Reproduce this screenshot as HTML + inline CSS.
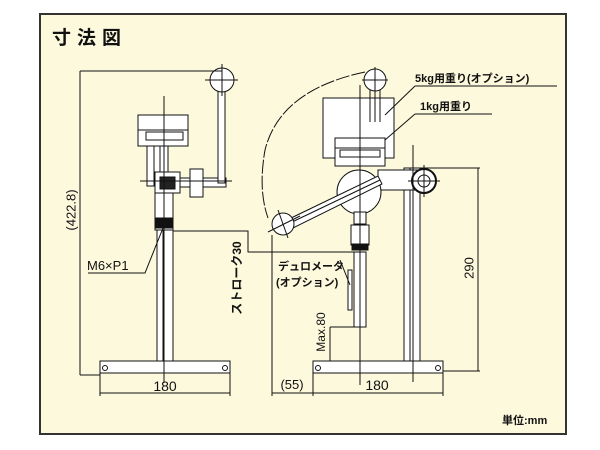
<!DOCTYPE html>
<html><head><meta charset="utf-8"><style>
html,body{margin:0;padding:0;background:#fff;}
svg{display:block;}
text{font-family:"Liberation Sans","Noto Sans CJK JP",sans-serif;fill:#111;}
</style></head><body>
<svg width="600" height="450" viewBox="0 0 600 450" xmlns="http://www.w3.org/2000/svg">
<rect x="0" y="0" width="600" height="450" fill="#fff"/>
<rect x="40" y="14" width="526" height="420" fill="#fdf9dd" stroke="#333" stroke-width="2"/>
<text x="52" y="44" font-size="19" font-weight="bold" letter-spacing="6">寸法図</text>

<g stroke="#111" fill="#fff" stroke-width="1">
<!-- LEFT STAND -->
<rect x="100" y="361" width="130" height="12"/>
<rect x="157" y="230" width="16" height="131"/>
<line x1="163" y1="230" x2="163" y2="361"/>
<rect x="155" y="193" width="18" height="37"/>
<rect x="155" y="218" width="18" height="10" fill="#111"/>
<rect x="147" y="146" width="21" height="40"/>
<line x1="154" y1="146" x2="154" y2="186"/><line x1="160" y1="146" x2="160" y2="186"/>
<rect x="138" y="115" width="50" height="31"/>
<line x1="138" y1="130" x2="188" y2="130"/>
<rect x="146" y="132" width="37" height="8"/>
<rect x="180" y="178" width="46" height="9"/>
<rect x="190" y="169" width="13" height="28"/>
<rect x="155" y="172" width="25" height="21"/>
<rect x="160" y="177" width="15" height="12" fill="#222"/>
<rect x="218" y="90" width="7" height="93"/>
<circle cx="222" cy="80" r="12"/>
<line x1="205" y1="80" x2="238" y2="80"/><line x1="222" y1="64" x2="222" y2="96"/>
<line x1="140" y1="181" x2="232" y2="181"/>
<line x1="164" y1="96" x2="164" y2="383"/>
<circle cx="105" cy="368" r="2.5"/><circle cx="225" cy="368" r="2.5"/>
<line x1="80" y1="71" x2="222" y2="71"/>
<line x1="80" y1="71" x2="80" y2="375"/>
<line x1="80" y1="375" x2="100" y2="375"/>
<line x1="100" y1="373" x2="100" y2="396"/><line x1="230" y1="373" x2="230" y2="396"/>
<line x1="100" y1="393" x2="230" y2="393"/>
<polyline points="88,273 145,273 163,228" fill="none"/>
<polyline points="173,231 248,231 248,252 356,252" fill="none"/>

<!-- RIGHT STAND -->
<rect x="313" y="361" width="130" height="12"/>
<rect x="404" y="168" width="16" height="193"/>
<line x1="410" y1="168" x2="410" y2="361"/>
<path d="M365 72 Q280 90 265 150 Q258 190 268 218" fill="none" stroke-dasharray="14,2"/>
<rect x="323" y="98" width="71" height="60"/>
<line x1="370" y1="90" x2="370" y2="122"/><line x1="375" y1="90" x2="375" y2="122"/><line x1="380" y1="90" x2="380" y2="122"/>
<circle cx="375" cy="80" r="11"/>
<line x1="375" y1="67" x2="375" y2="94"/><line x1="362" y1="80" x2="388" y2="80"/>
<rect x="335" y="138" width="50" height="28"/>
<line x1="335" y1="148" x2="385" y2="148"/>
<rect x="340" y="150" width="40" height="7"/>
<rect x="378" y="170" width="42" height="20"/>
<circle cx="359" cy="192" r="22"/>
<circle cx="424" cy="181" r="12" stroke-width="2"/>
<circle cx="424" cy="181" r="6"/>
<line x1="408" y1="181" x2="440" y2="181"/><line x1="424" y1="165" x2="424" y2="197"/>
<path d="M289 219 L378 176 L382 184 L293 228 Z"/>
<line x1="290" y1="223" x2="380" y2="180"/>
<circle cx="283" cy="224" r="11"/>
<line x1="268" y1="232" x2="300" y2="216"/><line x1="278" y1="210" x2="288" y2="238"/>
<rect x="354" y="212" width="12" height="12"/>
<rect x="351" y="225" width="18" height="20"/>
<rect x="352" y="244" width="16" height="6" fill="#111"/>
<rect x="354" y="252" width="12" height="75"/>
<rect x="348" y="270" width="4" height="40"/>
<line x1="360" y1="85" x2="360" y2="385"/>
<line x1="413" y1="145" x2="413" y2="382"/>
<circle cx="318" cy="368" r="2.5"/><circle cx="438" cy="368" r="2.5"/>
<line x1="420" y1="168" x2="480" y2="168"/>
<line x1="443" y1="371" x2="480" y2="371"/>
<line x1="478" y1="168" x2="478" y2="371"/>
<line x1="272" y1="235" x2="272" y2="396"/>
<line x1="313" y1="373" x2="313" y2="396"/><line x1="443" y1="373" x2="443" y2="396"/>
<line x1="272" y1="393" x2="443" y2="393"/>
<line x1="330" y1="327" x2="360" y2="327"/>
<line x1="330" y1="327" x2="330" y2="361"/>
<line x1="415" y1="86" x2="557" y2="86"/>
<line x1="415" y1="86" x2="385" y2="115"/>
<line x1="415" y1="114" x2="492" y2="114"/>
<line x1="415" y1="114" x2="385" y2="140"/>
<line x1="340" y1="260" x2="350" y2="285"/>
</g>

<text x="72" y="210" font-size="13" transform="rotate(-90 72 210)" text-anchor="middle" dominant-baseline="middle">(422.8)</text>
<text x="87" y="270" font-size="13">M6×P1</text>
<text x="165" y="391" font-size="14" text-anchor="middle">180</text>
<text x="238" y="278" font-size="12" font-weight="bold" transform="rotate(-90 238 278)" text-anchor="middle" dominant-baseline="middle">ストローク30</text>
<text x="278" y="270" font-size="11" font-weight="bold">デュロメータ</text>
<text x="276" y="286" font-size="11" font-weight="bold">(オプション)</text>
<text x="322" y="332" font-size="12" transform="rotate(-90 322 332)" text-anchor="middle" dominant-baseline="middle">Max.80</text>
<text x="292" y="389" font-size="13" text-anchor="middle">(55)</text>
<text x="377" y="390" font-size="14" text-anchor="middle">180</text>
<text x="470" y="268" font-size="13" transform="rotate(-90 470 268)" text-anchor="middle" dominant-baseline="middle">290</text>
<text x="415" y="82" font-size="11" font-weight="bold">5kg用重り(オプション)</text>
<text x="420" y="110" font-size="11" font-weight="bold">1kg用重り</text>
<text x="502" y="424" font-size="11" font-weight="bold">単位:mm</text>
</svg>
</body></html>
